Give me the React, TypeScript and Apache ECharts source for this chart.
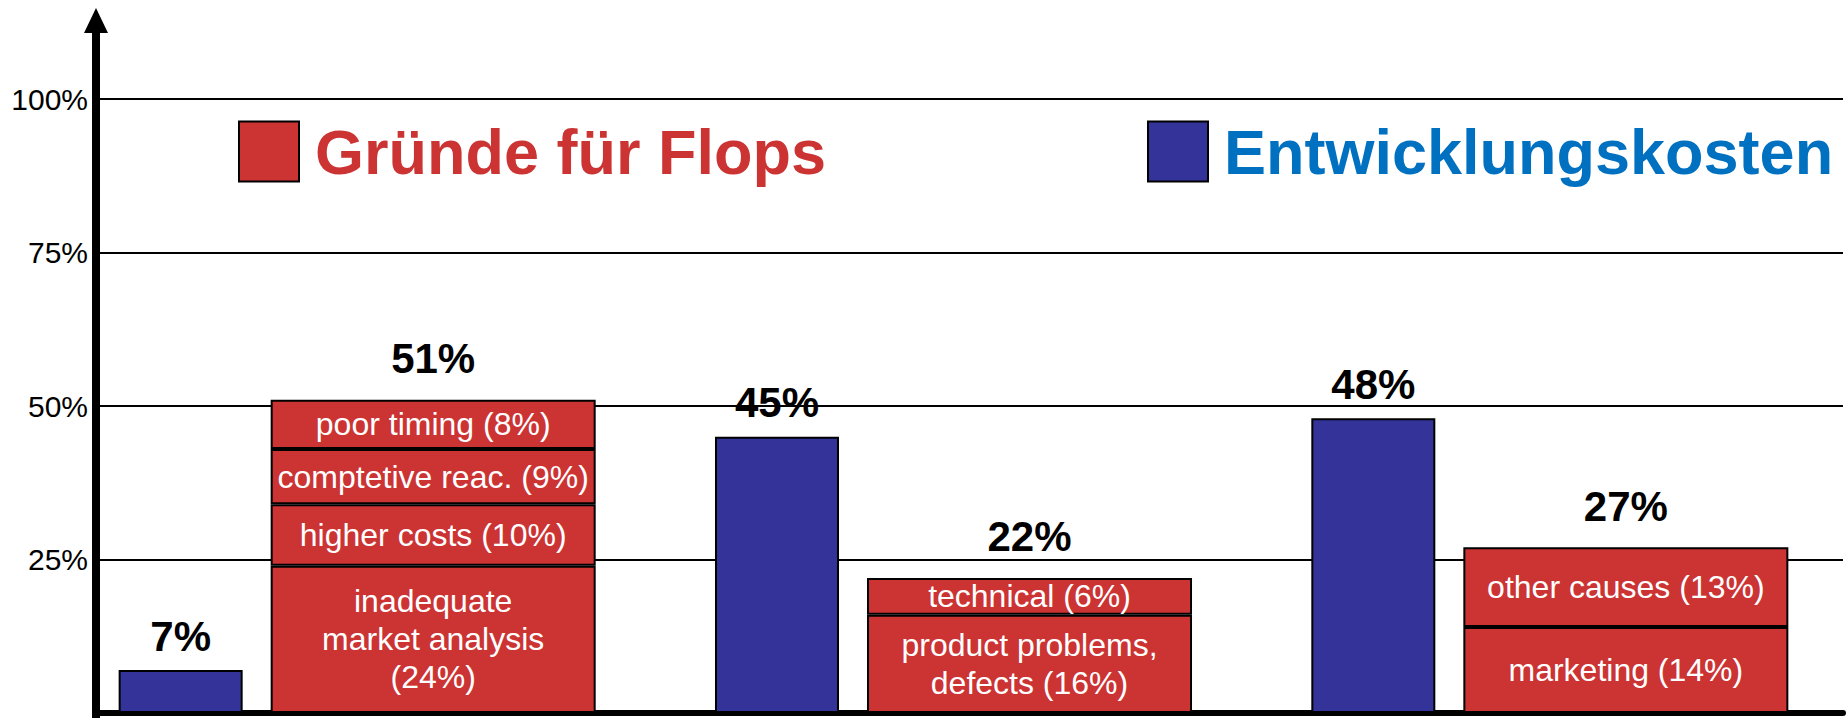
import React, { useEffect, useRef } from 'react';
import * as echarts from 'echarts';

// ---- data ----
const groups = ['1', '2', '3'];
const costValues = [7, 45, 48];
const flopLevel1 = [24, 16, 14];
const flopLevel1Names = ['inadequate\nmarket analysis\n', 'product problems,\ndefects ', 'marketing '];
const flopLevel2 = [10, 6, 13];
const flopLevel2Names = ['higher costs ', 'technical ', 'other causes '];
const flopLevel3: (number | null)[] = [9, null, null];
const flopLevel3Names = ['comptetive reac. ', '', ''];
const flopLevel4: (number | null)[] = [8, null, null];
const flopLevel4Names = ['poor timing ', '', ''];
const yTickLabels = ['', '25%', '50%', '75%', '100%'];
const flopName = 'Gründe für Flops';
const costName = 'Entwicklungskosten';

const FONT = '"Liberation Sans", Arial, Helvetica, sans-serif';
const RED = '#CC3333';
const BLUE = '#333399';

export default function App() {
  const ref = useRef<HTMLDivElement>(null);
  useEffect(() => {
    document.body.style.margin = '0';
    if (!ref.current) return;
    const chart = echarts.init(ref.current, undefined, { renderer: 'svg' });

    const levels: [(number | null)[], string[]][] = [
      [flopLevel1, flopLevel1Names],
      [flopLevel2, flopLevel2Names],
      [flopLevel3, flopLevel3Names],
      [flopLevel4, flopLevel4Names],
    ];
    const totals = groups.map((_, i) =>
      levels.reduce((s, [vals]) => s + (vals[i] ?? 0), 0)
    );

    const bigLabel = {
      show: true,
      position: 'top' as const,
      fontFamily: FONT,
      fontSize: 42,
      fontWeight: 'bold' as const,
      color: '#000',
    };

    const flopSeries = levels.map(([vals, names]) => ({
      type: 'bar',
      name: flopName,
      stack: 'flops',
      xAxisIndex: 1,
      yAxisIndex: 1,
      barWidth: 325,
      barGap: '22.6%',
      data: vals.map((v) => (v == null ? '-' : v)),
      itemStyle: { color: RED, borderColor: '#000', borderWidth: 2 },
      label: {
        show: true,
        position: 'inside',
        fontFamily: FONT,
        fontSize: 32,
        lineHeight: 38,
        color: '#fff',
        align: 'center',
        formatter: (p: any) => names[p.dataIndex] + '(' + p.value + '%)',
      },
      z: 3,
    }));

    const legendBase = {
      top: 120,
      padding: 0,
      itemWidth: 60,
      itemHeight: 60,
      selectedMode: false,
      icon: 'rect',
    };

    const option: any = {
      animation: false,
      backgroundColor: '#fff',
      grid: [
        { left: 96, right: 5, top: 99, bottom: 5 },
        { left: 59, width: 1800, top: 99, bottom: 5 },
      ],
      xAxis: [
        {
          type: 'category',
          gridIndex: 0,
          data: groups,
          axisLine: { show: true, lineStyle: { color: '#000', width: 6 } },
          axisTick: { show: false },
          axisLabel: { show: false },
        },
        {
          type: 'category',
          gridIndex: 1,
          data: groups,
          show: false,
        },
      ],
      yAxis: [
        {
          type: 'value',
          gridIndex: 0,
          min: 0,
          max: 100,
          interval: 25,
          axisLine: { show: false },
          axisTick: { show: false },
          splitLine: { show: true, lineStyle: { color: '#000', width: 2 } },
          axisLabel: {
            margin: 8,
            fontFamily: FONT,
            fontSize: 30,
            color: '#000',
            formatter: (v: number) => yTickLabels[Math.round(v / 25)] ?? '',
          },
        },
        { type: 'value', gridIndex: 1, min: 0, max: 100, show: false },
      ],
      legend: [
        {
          ...legendBase,
          left: 238,
          data: [
            {
              name: flopName,
              itemStyle: { color: RED, borderColor: '#000', borderWidth: 2 },
            },
          ],
          textStyle: {
            fontFamily: FONT,
            fontSize: 63,
            fontWeight: 'bold',
            color: RED,
            padding: [0, 0, 0, 11],
          },
        },
        {
          ...legendBase,
          left: 1147,
          data: [
            {
              name: costName,
              itemStyle: { color: BLUE, borderColor: '#000', borderWidth: 2 },
            },
          ],
          textStyle: {
            fontFamily: FONT,
            fontSize: 63,
            fontWeight: 'bold',
            color: '#0070C0',
            padding: [0, 0, 0, 11],
          },
        },
      ],
      series: [
        {
          type: 'bar',
          name: costName,
          xAxisIndex: 1,
          yAxisIndex: 1,
          barWidth: 124,
          barGap: '22.6%',
          data: costValues,
          itemStyle: { color: BLUE, borderColor: '#000', borderWidth: 2 },
          label: { ...bigLabel, distance: 13, formatter: (p: any) => p.value + '%' },
          z: 3,
        },
        ...flopSeries,
        {
          type: 'bar',
          name: 'total',
          stack: 'flops',
          xAxisIndex: 1,
          yAxisIndex: 1,
          barWidth: 325,
          barGap: '22.6%',
          data: groups.map(() => 0),
          itemStyle: { color: 'rgba(0,0,0,0)', borderWidth: 0 },
          label: { ...bigLabel, distance: 20, formatter: (p: any) => totals[p.dataIndex] + '%' },
          z: 3,
        },
      ],
      graphic: [
        {
          type: 'line',
          z: 100,
          shape: { x1: 96, y1: 30, x2: 96, y2: 718 },
          style: { stroke: '#000', lineWidth: 8 },
        },
        {
          type: 'polygon',
          z: 100,
          shape: { points: [[84, 33], [108, 33], [96, 8]] },
          style: { fill: '#000' },
        },
      ],
    };

    chart.setOption(option);
    return () => chart.dispose();
  }, []);

  return <div ref={ref} style={{ width: 1848, height: 718 }} />;
}
